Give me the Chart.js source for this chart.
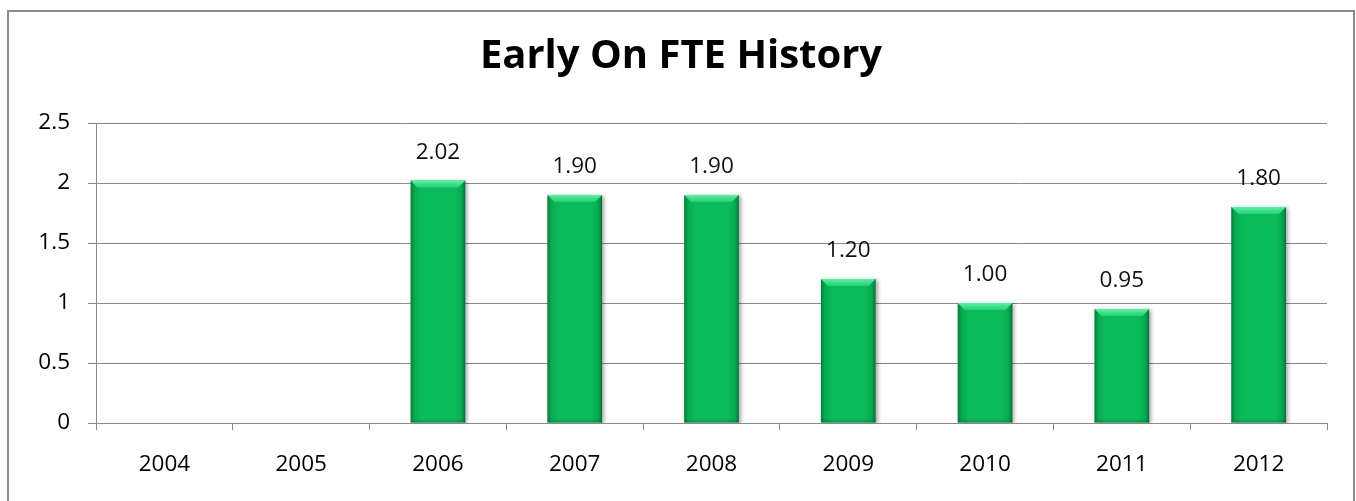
<!DOCTYPE html>
<html>
<head>
<meta charset="utf-8">
<script src="https://cdn.jsdelivr.net/npm/chart.js@4.4.1/dist/chart.umd.min.js"></script>
<style>
  html, body { margin: 0; padding: 0; background: #ffffff; overflow: hidden; }
  #wrap { position: relative; width: 1356px; height: 501px; }
  #frame { position: absolute; left: 7px; top: 10px; width: 1344px; height: 600px; border: 2px solid #8c8c8c; pointer-events: none; }
  canvas { position: absolute; left: 0; top: 0; }
</style>
</head>
<body>
<div id="wrap">
  <canvas id="c" width="1356" height="501"></canvas>
  <div id="frame"></div>
</div>
<script>
// ---- data ----
const titleText = 'Early On FTE History';
const years = ['2004', '2005', '2006', '2007', '2008', '2009', '2010', '2011', '2012'];
const fteValues = [null, null, 2.02, 1.90, 1.90, 1.20, 1.00, 0.95, 1.80];
const yTicks = [0, 0.5, 1, 1.5, 2, 2.5];

const FONT = "'Open Sans', 'Liberation Sans', sans-serif";
const GRID = '#8a8a8a';
const BAR_PCT = 0.4;

function barFill(context) {
  const chart = context.chart;
  const xs = chart.scales && chart.scales.x;
  if (!xs || context.dataIndex === undefined || !(xs.width > 0)) return '#0bb95a';
  const cx = xs.getPixelForValue(context.dataIndex);
  const w = (xs.width / years.length) * BAR_PCT;
  if (!isFinite(cx) || !isFinite(w)) return '#0bb95a';
  const g = chart.ctx.createLinearGradient(cx - w / 2, 0, cx + w / 2, 0);
  g.addColorStop(0, '#067a3a');
  g.addColorStop(0.07, '#08a94f');
  g.addColorStop(0.2, '#0bbb5b');
  g.addColorStop(0.8, '#0bbb5b');
  g.addColorStop(0.93, '#08a94f');
  g.addColorStop(1, '#05733a');
  return g;
}

const barDecor = {
  id: 'barDecor',
  beforeDatasetsDraw(chart) {
    const ctx = chart.ctx;
    ctx.save();
    ctx.shadowColor = 'rgba(0,0,0,0.35)';
    ctx.shadowBlur = 4;
    ctx.shadowOffsetX = 2;
    ctx.shadowOffsetY = 1;
  },
  afterDatasetsDraw(chart) {
    const ctx = chart.ctx;
    ctx.restore();
    const meta = chart.getDatasetMeta(0);
    meta.data.forEach((el, i) => {
      const v = fteValues[i];
      if (v === null || v === undefined) return;
      const p = el.getProps(['x', 'y', 'base', 'width'], true);
      if (![p.x, p.y, p.base, p.width].every(isFinite)) return;
      const l = p.x - p.width / 2, r = p.x + p.width / 2, t = p.y;
      const b = 7;
      ctx.save();
      const g = ctx.createLinearGradient(0, t, 0, t + b);
      g.addColorStop(0, '#5cf0a4');
      g.addColorStop(1, '#22cf74');
      ctx.fillStyle = g;
      ctx.beginPath();
      ctx.moveTo(l, t);
      ctx.lineTo(r, t);
      ctx.lineTo(r - b, t + b);
      ctx.lineTo(l + b, t + b);
      ctx.closePath();
      ctx.fill();
      const gb = ctx.createLinearGradient(0, p.base - 4, 0, p.base);
      gb.addColorStop(0, 'rgba(0,90,40,0)');
      gb.addColorStop(1, 'rgba(0,90,40,0.35)');
      ctx.fillStyle = gb;
      ctx.fillRect(l, p.base - 4, p.width, 4);
      ctx.restore();
      ctx.save();
      ctx.font = '22.5px ' + FONT;
      ctx.fillStyle = '#111111';
      ctx.textAlign = 'center';
      ctx.textBaseline = 'middle';
      ctx.fillText(v.toFixed(2), p.x, t - 28);
      ctx.restore();
    });
  }
};

new Chart(document.getElementById('c'), {
  type: 'bar',
  data: {
    labels: years,
    datasets: [{
      label: 'FTE',
      data: fteValues,
      backgroundColor: barFill,
      borderWidth: 0,
      categoryPercentage: 1,
      barPercentage: BAR_PCT
    }]
  },
  options: {
    responsive: false,
    animation: false,
    devicePixelRatio: 1,
    layout: { padding: { left: 35, right: 29, top: 12, bottom: 0 } },
    plugins: {
      legend: { display: false },
      tooltip: { enabled: false },
      title: {
        display: true,
        text: titleText,
        color: '#000000',
        font: { family: FONT, size: 40, weight: 'bold', lineHeight: 1.2 },
        padding: { top: 21, bottom: 42 }
      }
    },
    scales: {
      x: {
        offset: true,
        grid: { display: true, drawOnChartArea: false, drawTicks: true, tickLength: 7, color: GRID, offset: true },
        border: { display: true, color: GRID, width: 1 },
        ticks: { color: '#000000', font: { family: FONT, size: 22.5 }, padding: 21.5, maxRotation: 0, autoSkip: false },
        afterFit(scale) { scale.height = 78; }
      },
      y: {
        min: 0,
        max: 2.5,
        afterBuildTicks(scale) { scale.ticks = yTicks.map(v => ({ value: v })); },
        grid: { color: GRID, lineWidth: 1, drawTicks: true, tickLength: 8 },
        border: { display: true, color: GRID, width: 1 },
        ticks: {
          color: '#000000',
          font: { family: FONT, size: 22.5 },
          padding: 18,
          callback: (v) => String(v)
        },
        afterFit(scale) { scale.width = 61; }
      }
    }
  },
  plugins: [barDecor]
});
</script>
</body>
</html>
